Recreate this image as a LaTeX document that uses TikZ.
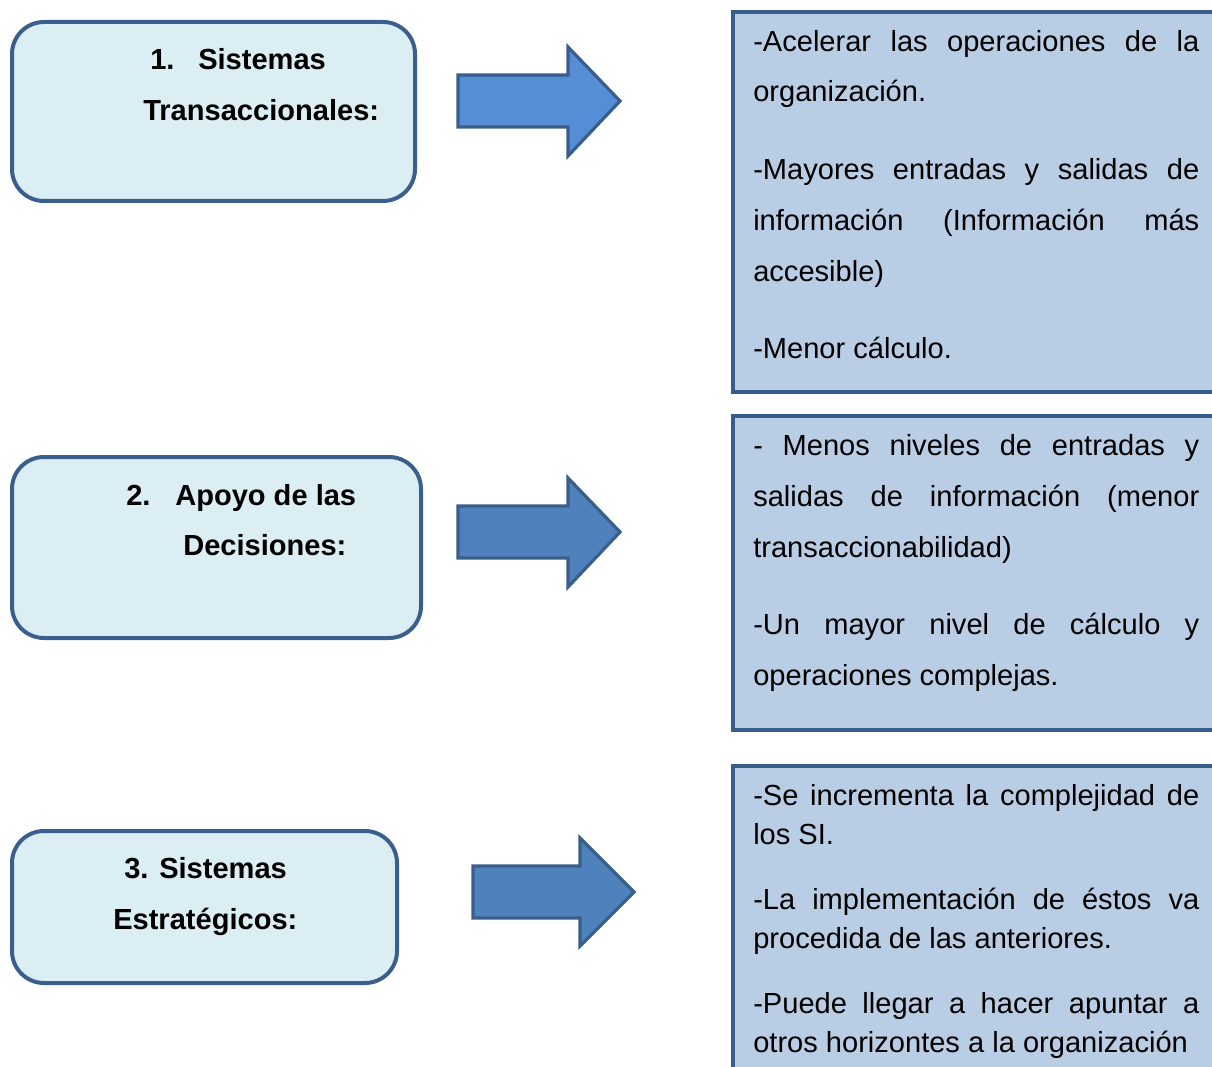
\documentclass[tikz,border=0pt]{standalone}
\usepackage{fontspec}
\setmainfont{Liberation Sans}
\definecolor{lline}{HTML}{3B5F8D}
\definecolor{lfill}{HTML}{DBEEF4}
\definecolor{rline}{HTML}{385D8A}
\definecolor{rfill}{HTML}{B9CDE5}
\definecolor{aline}{HTML}{3A5E8C}
\definecolor{afillA}{HTML}{558ED5}
\definecolor{afillB}{HTML}{4F81BD}
\newcommand{\jl}[1]{\makebox[334.5pt][s]{#1}}
\begin{document}
\begin{tikzpicture}[x=0.75pt,y=-0.75pt,
  lbox/.style={draw=lline, fill=lfill, line width=3pt, rounded corners=24pt},
  rbox/.style={draw=rline, fill=rfill, line width=3.5pt},
  barrow/.style={draw=aline, line width=2.4pt, line join=miter},
  ttl/.style={anchor=base west, inner sep=0pt, font=\bfseries\fontsize{21.8}{26}\selectfont},
  txt/.style={anchor=base west, inner sep=0pt, font=\fontsize{21.8}{26}\selectfont}]
\useasboundingbox (0,0) rectangle (1212,1066);
\begin{scope}
\clip (0,0) rectangle (1212,1066);
% left boxes
\draw[lbox] (12,22) rectangle (415,201);
\draw[lbox] (12,457) rectangle (421,638);
\draw[lbox] (12,831) rectangle (397,983);
% right boxes
\draw[rbox] (733,12) rectangle (1230,392);
\draw[rbox] (733,416) rectangle (1230,730);
\draw[rbox] (733,766) rectangle (1230,1100);
% block arrows
\draw[barrow, fill=afillA] (458,75) -- (568,75) -- (568,47) -- (620,101) -- (568,156) -- (568,127) -- (458,127) -- cycle;
\draw[barrow, fill=afillB] (458,506) -- (568,506) -- (568,478) -- (620,532) -- (568,587) -- (568,558) -- (458,558) -- cycle;
\draw[barrow, fill=afillB] (473,866) -- (580,866) -- (580,838) -- (634,892) -- (580,946) -- (580,918) -- (473,918) -- cycle;
\end{scope}
% left titles
\node[ttl] (n1) at (150,70) {1.};
\node[ttl] (t1a) at (198,70) {Sistemas};
\node[ttl] (t1b) at (143,121) {Transaccionales:};
\node[ttl] (n2) at (126,505) {2.};
\node[ttl] (t2a) at (175,505) {Apoyo de las};
\node[ttl] (t2b) at (183,555) {Decisiones:};
\node[ttl] (t3a) at (124,878) {3. Sistemas};
\node[ttl] (t3b) at (113,929) {Estratégicos:};
% right texts
\node[txt] (r1a) at (753,52) {\jl{-Acelerar las operaciones de la}};
\node[txt] (r1b) at (753,102) {organización.};
\node[txt] (r1c) at (753,180) {\jl{-Mayores entradas y salidas de}};
\node[txt] (r1d) at (753,230) {\jl{información (Información más}};
\node[txt] (r1e) at (753,281) {accesible)};
\node[txt] (r1f) at (753,358) {-Menor cálculo.};
\node[txt] (r2a) at (753,455) {\jl{- Menos niveles de entradas y}};
\node[txt] (r2b) at (753,506) {\jl{salidas de información (menor}};
\node[txt] (r2c) at (753,557) {transaccionabilidad)};
\node[txt] (r2d) at (753,634) {\jl{-Un mayor nivel de cálculo y}};
\node[txt] (r2e) at (753,685) {operaciones complejas.};
\node[txt] (r3a) at (753,805) {\jl{-Se incrementa la complejidad de}};
\node[txt] (r3b) at (753,844) {los SI.};
\node[txt] (r3c) at (753,909) {\jl{-La implementación de éstos va}};
\node[txt] (r3d) at (753,948) {procedida de las anteriores.};
\node[txt] (r3e) at (753,1013) {\jl{-Puede llegar a hacer apuntar a}};
\node[txt] (r3f) at (753,1052) {otros horizontes a la organización};
\end{tikzpicture}
\end{document}
